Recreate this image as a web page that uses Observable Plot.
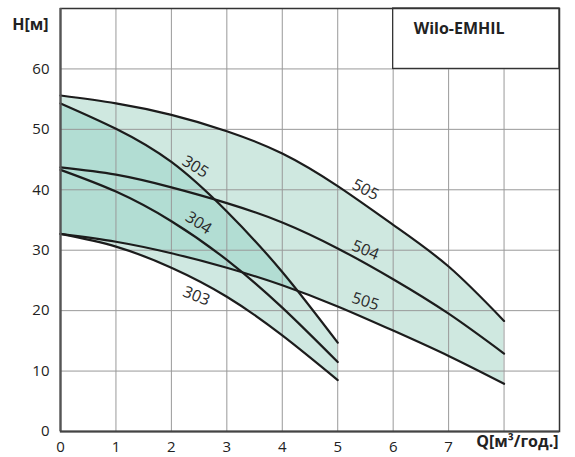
<!DOCTYPE html>
<html><head><meta charset="utf-8">
<script src="https://cdn.jsdelivr.net/npm/d3@7"></script>
<script src="https://cdn.jsdelivr.net/npm/@observablehq/plot@0.6"></script>
<style>
body{margin:0;background:#fff;}
#chart{width:575px;height:457px;}
</style></head><body><div id="chart"></div>
<script>
// Flow Q [m3/h] and head H [m]
const q50 = [0, 1, 2, 3, 4, 5, 6, 7, 8];
const h505 = [55.6, 54.3, 52.4, 49.7, 46.0, 40.6, 34.2, 27.3, 18.3];
const h504 = [43.7, 42.5, 40.4, 37.8, 34.6, 30.3, 25.2, 19.5, 12.9];
const h503 = [32.7, 31.4, 29.5, 27.1, 24.2, 20.7, 16.7, 12.5, 7.9];
const q30 = [0, 1, 2, 3, 4, 5];
const h305 = [54.3, 50.1, 44.6, 36.4, 26.4, 14.7];
const h304 = [43.3, 39.7, 34.8, 28.4, 20.5, 11.5];
const h303 = [32.7, 30.6, 27.1, 22.3, 15.9, 8.5];

const xTicks = [0, 1, 2, 3, 4, 5, 6, 7];
const xGrid = [1, 2, 3, 4, 5, 6, 7, 8];
const yTicks = [0, 10, 20, 30, 40, 50, 60];
const yGrid = [10, 20, 30, 40, 50, 60];

const labelText = ["305", "304", "303", "505", "504", "505"];
const labelQ = [2.43, 2.49, 2.45, 5.5, 5.5, 5.5];
const labelH = [43.8, 34.5, 22.4, 40.0, 30.0, 21.5];
const labelAngle = [32, 33, 22, 27, 22, 18];

const brand = "Wilo-EMHIL";
const boxQ = [6, 9];
const boxH = [60, 70];
const brandQ = 6.37, brandH = 66.6;
const xLabel = "Q[м³/год.]";
const yLabel = "H[м]";

const band50 = q50.map((q, i) => ({q, top: h505[i], bottom: h503[i]}));
const band30 = q30.map((q, i) => ({q, top: h305[i], bottom: h303[i]}));
const curves = [
  ...q50.map((q, i) => ({s: "505", q, h: h505[i]})),
  ...q50.map((q, i) => ({s: "504", q, h: h504[i]})),
  ...q50.map((q, i) => ({s: "503", q, h: h503[i]})),
  ...q30.map((q, i) => ({s: "305", q, h: h305[i]})),
  ...q30.map((q, i) => ({s: "304", q, h: h304[i]})),
  ...q30.map((q, i) => ({s: "303", q, h: h303[i]}))
];
const labels = labelText.map((t, i) => ({t, q: labelQ[i], h: labelH[i], a: labelAngle[i]}));

const LIGHT = "#cfe8e0", LIGHT2 = "#cfe8e1", DARK = "#b2ddd3";

const chart = Plot.plot({
  width: 575, height: 457,
  marginLeft: 60, marginRight: 16, marginTop: 8, marginBottom: 26,
  style: {fontFamily: "'Open Sans', 'DejaVu Sans', sans-serif", fontSize: "15px", color: "#222", background: "#fff"},
  x: {domain: [0, 9], ticks: xTicks, tickSize: 0, tickPadding: 10, tickFormat: d => String(d), label: null},
  y: {domain: [0, 70], ticks: yTicks, tickSize: 0, tickPadding: 11, tickFormat: d => String(d), label: null},
  marks: [
    Plot.areaY(band50, {x: "q", y1: "bottom", y2: "top", fill: LIGHT, curve: "natural"}),
    Plot.areaY(band30, {x: "q", y1: "bottom", y2: "top", fill: LIGHT2, curve: "natural"}),
    Plot.areaY(band30, {x: "q", y1: "bottom", y2: "top", fill: DARK, curve: "natural"}),
    Plot.ruleX(xGrid, {stroke: "#999", strokeWidth: 1}),
    Plot.ruleY(yGrid, {stroke: "#999", strokeWidth: 1}),
    Plot.line(curves, {x: "q", y: "h", z: "s", stroke: "#1c1c1c", strokeWidth: 2.2, curve: "natural"}),
    Plot.text(labels, {x: "q", y: "h", text: "t", rotate: "a", fill: "#2a2a2a", fontSize: 16}),
    Plot.rect([0], {x1: boxQ[0], x2: boxQ[1], y1: boxH[0], y2: boxH[1], fill: "#fff", stroke: "#333", strokeWidth: 1.3}),
    Plot.text([brand], {x: brandQ, y: brandH, text: d => d, textAnchor: "start", fontWeight: "bold", fontSize: 16, fill: "#222"}),
    Plot.frame({stroke: "#333", strokeWidth: 1.5}),
    Plot.ruleX([0], {stroke: "#555", strokeWidth: 2.2}),
    Plot.ruleY([0], {stroke: "#444", strokeWidth: 2.2}),
    Plot.text([yLabel], {frameAnchor: "top-left", text: d => d, textAnchor: "end", dx: -12, dy: 10, fontWeight: "bold", fontSize: 16, fill: "#222"}),
    Plot.text([xLabel], {frameAnchor: "bottom-right", text: d => d, textAnchor: "end", dx: -1, dy: 15, fontWeight: "bold", fontSize: 16, fill: "#222"})
  ]
});
document.getElementById("chart").appendChild(chart);

// clip the dark overlap band to the 50x band
const svg = d3.select(chart);
const p50 = svg.select(`g[fill="${LIGHT}"] path`);
const gDark = svg.select(`g[fill="${DARK}"]`);
if (!p50.empty() && !gDark.empty()) {
  const defs = svg.insert("defs", ":first-child");
  defs.append("clipPath").attr("id", "clip50").append("path").attr("d", p50.attr("d"));
  gDark.attr("clip-path", "url(#clip50)");
}
</script></body></html>
